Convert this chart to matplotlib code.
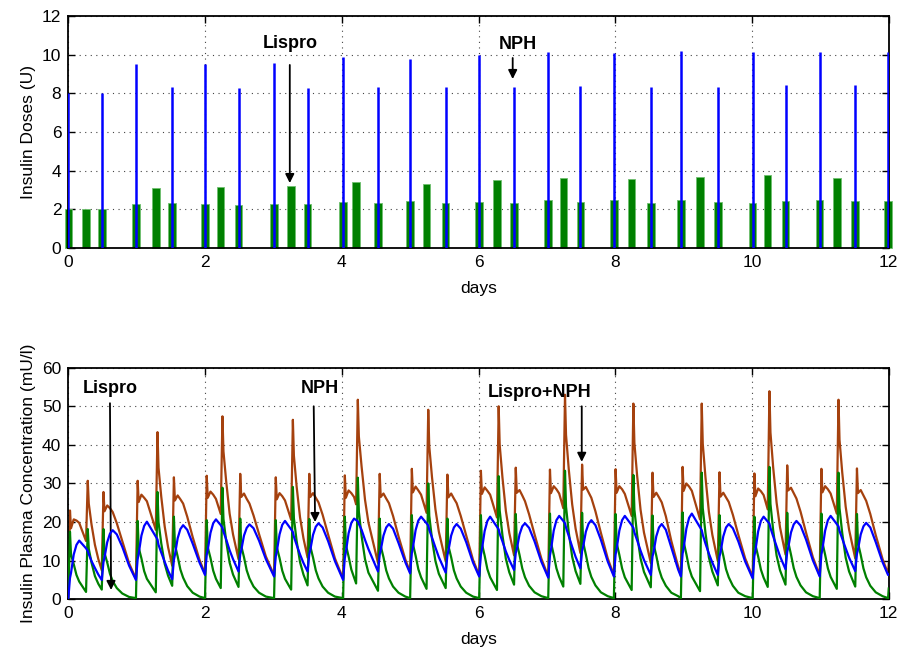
import numpy as np
import matplotlib
matplotlib.use('Agg')
import matplotlib.pyplot as plt

plt.rcParams['font.family'] = ['Liberation Sans', 'DejaVu Sans']

GREEN = '#008000'
BLUE = '#0000ff'
BROWN = '#a5410e'

# ---- doses (top panel) ----
nph_days = [0.0, 0.49, 0.99, 1.52, 2.0, 2.49, 3.01, 3.5, 4.02, 4.53, 5.0, 5.52, 6.01,
            6.52, 7.02, 7.49, 7.98, 8.52, 8.96, 9.5, 10.01, 10.49, 10.99, 11.51, 11.99]
nph_units = [8.0, 8.0, 9.52, 8.35, 9.52, 8.26, 9.55, 8.28, 9.86, 8.33, 9.78, 8.33, 9.98,
             8.35, 10.16, 8.38, 10.07, 8.31, 10.21, 8.35, 10.12, 8.41, 10.12, 8.41, 10.16]

lispro_days = [0.0, 0.26, 0.49, 0.99, 1.28, 1.52, 2.0, 2.23, 2.49, 3.01, 3.26, 3.5,
               4.02, 4.21, 4.53, 5.0, 5.24, 5.52, 6.01, 6.27, 6.52, 7.02, 7.24, 7.49,
               7.98, 8.24, 8.52, 8.96, 9.24, 9.5, 10.01, 10.23, 10.49, 10.99, 11.24,
               11.51, 11.99]
lispro_units = [2.0, 2.0, 2.0, 2.28, 3.09, 2.31, 2.26, 3.17, 2.24, 2.28, 3.21, 2.28,
                2.38, 3.43, 2.33, 2.43, 3.33, 2.33, 2.40, 3.52, 2.35, 2.47, 3.64, 2.38,
                2.47, 3.55, 2.31, 2.50, 3.67, 2.36, 2.31, 3.78, 2.42, 2.47, 3.60, 2.42,
                2.43]

# ---- plasma concentration (bottom panel), one row per day ----
conc_t = [
    [0.0, 0.025, 0.04, 0.08, 0.12, 0.16, 0.26, 0.285, 0.30, 0.34, 0.39, 0.44, 0.49, 0.515, 0.53, 0.57, 0.61, 0.65, 0.71, 0.79, 0.89],
    [0.99, 1.015, 1.03, 1.07, 1.11, 1.15, 1.28, 1.305, 1.32, 1.36, 1.41, 1.46, 1.52, 1.545, 1.56, 1.60, 1.64, 1.68, 1.74, 1.82, 1.92],
    [2.0, 2.025, 2.04, 2.08, 2.12, 2.16, 2.23, 2.255, 2.27, 2.31, 2.36, 2.41, 2.49, 2.515, 2.53, 2.57, 2.61, 2.65, 2.71, 2.79, 2.89],
    [3.01, 3.035, 3.05, 3.09, 3.13, 3.17, 3.26, 3.285, 3.30, 3.34, 3.39, 3.44, 3.50, 3.525, 3.54, 3.58, 3.62, 3.66, 3.72, 3.80, 3.90],
    [4.02, 4.045, 4.06, 4.10, 4.14, 4.18, 4.21, 4.235, 4.25, 4.29, 4.34, 4.39, 4.53, 4.555, 4.57, 4.61, 4.65, 4.69, 4.75, 4.83, 4.93],
    [5.0, 5.025, 5.04, 5.08, 5.12, 5.16, 5.24, 5.265, 5.28, 5.32, 5.37, 5.42, 5.52, 5.545, 5.56, 5.60, 5.64, 5.68, 5.74, 5.82, 5.92],
    [6.01, 6.035, 6.05, 6.09, 6.13, 6.17, 6.27, 6.295, 6.31, 6.35, 6.40, 6.45, 6.52, 6.545, 6.56, 6.60, 6.64, 6.68, 6.74, 6.82, 6.92],
    [7.02, 7.045, 7.06, 7.10, 7.14, 7.18, 7.24, 7.265, 7.28, 7.32, 7.37, 7.42, 7.49, 7.515, 7.53, 7.57, 7.61, 7.65, 7.71, 7.79, 7.89],
    [7.98, 8.005, 8.02, 8.06, 8.10, 8.14, 8.24, 8.265, 8.28, 8.32, 8.37, 8.42, 8.52, 8.545, 8.56, 8.60, 8.64, 8.68, 8.74, 8.82, 8.92],
    [8.96, 8.985, 9.0, 9.04, 9.08, 9.12, 9.24, 9.265, 9.28, 9.32, 9.37, 9.42, 9.50, 9.525, 9.54, 9.58, 9.62, 9.66, 9.72, 9.80, 9.90],
    [10.01, 10.035, 10.05, 10.09, 10.13, 10.17, 10.23, 10.255, 10.27, 10.31, 10.36, 10.41, 10.49, 10.515, 10.53, 10.57, 10.61, 10.65, 10.71, 10.79, 10.89],
    [10.99, 11.015, 11.03, 11.07, 11.11, 11.15, 11.24, 11.265, 11.28, 11.32, 11.37, 11.42, 11.51, 11.535, 11.55, 11.59, 11.63, 11.67, 11.73, 11.81, 11.91],
    [11.99, 12.0],
]
conc_lispro = [
    [0, 17.5, 11.6, 9.1, 6.3, 4.6, 1.9, 18.2, 13.1, 9.5, 6.0, 4.0, 2.5, 18.2, 12.0, 9.5, 6.6, 4.7, 2.9, 1.5, 0.6],
    [0.3, 20.3, 13.4, 10.6, 7.3, 5.3, 1.8, 27.8, 20.0, 14.5, 9.2, 6.1, 3.5, 21.4, 14.1, 11.1, 7.7, 5.6, 3.4, 1.7, 0.7],
    [0.3, 20.5, 13.5, 10.7, 7.4, 5.3, 2.9, 28.9, 20.8, 15.0, 9.5, 6.4, 3.2, 20.9, 13.8, 10.9, 7.5, 5.4, 3.3, 1.7, 0.7],
    [0.3, 20.5, 13.5, 10.7, 7.4, 5.3, 2.5, 29.1, 21.0, 15.1, 9.6, 6.4, 3.6, 20.8, 13.7, 10.8, 7.5, 5.4, 3.3, 1.7, 0.7],
    [0.3, 21.4, 14.1, 11.1, 7.7, 5.6, 4.1, 31.5, 22.7, 16.4, 10.4, 6.9, 2.2, 20.9, 13.8, 10.9, 7.5, 5.4, 3.3, 1.7, 0.7],
    [0.3, 21.8, 14.4, 11.3, 7.8, 5.7, 2.7, 30.0, 21.6, 15.6, 9.9, 6.6, 2.9, 20.9, 13.8, 10.9, 7.5, 5.4, 3.3, 1.7, 0.7],
    [0.3, 21.8, 14.4, 11.3, 7.8, 5.7, 2.4, 31.9, 23.0, 16.6, 10.5, 7.0, 3.8, 22.1, 14.6, 11.5, 8.0, 5.7, 3.5, 1.8, 0.8],
    [0.3, 22.2, 14.7, 11.5, 8.0, 5.8, 3.3, 33.3, 24.0, 17.3, 11.0, 7.3, 4.0, 22.4, 14.8, 11.6, 8.1, 5.8, 3.6, 1.8, 0.8],
    [0.3, 22.1, 14.6, 11.5, 8.0, 5.7, 2.4, 32.2, 23.2, 16.7, 10.6, 7.1, 3.1, 21.7, 14.3, 11.3, 7.8, 5.6, 3.5, 1.7, 0.8],
    [0.3, 22.5, 14.9, 11.7, 8.1, 5.9, 2.1, 32.8, 23.6, 17.1, 10.8, 7.2, 3.6, 21.8, 14.4, 11.3, 7.8, 5.7, 3.5, 1.7, 0.8],
    [0.3, 21.4, 14.1, 11.1, 7.7, 5.6, 3.2, 34.3, 24.7, 17.8, 11.3, 7.5, 3.8, 22.4, 14.8, 11.6, 8.1, 5.8, 3.6, 1.8, 0.8],
    [0.3, 22.2, 14.7, 11.5, 8.0, 5.8, 2.7, 32.8, 23.6, 17.1, 10.8, 7.2, 3.3, 22.1, 14.6, 11.5, 8.0, 5.7, 3.5, 1.8, 0.8],
    [0.3, 2.8],
]
conc_nph = [
    [0, 5.5, 6.8, 11.6, 14.1, 15.2, 13.2, 12.5, 11.7, 9.9, 8.1, 6.4, 5.0, 9.6, 10.8, 14.8, 17.0, 17.9, 16.8, 13.6, 8.7],
    [5.0, 10.4, 11.8, 16.5, 19.0, 20.1, 16.2, 15.5, 14.1, 12.1, 9.7, 7.4, 5.2, 10.2, 11.5, 15.8, 18.2, 19.2, 18.0, 14.4, 9.5],
    [6.3, 11.5, 12.8, 17.2, 19.7, 20.7, 19.2, 18.5, 17.5, 15.5, 12.7, 10.4, 7.2, 11.6, 12.7, 16.5, 18.5, 19.4, 18.4, 15.2, 10.4],
    [5.9, 11.1, 12.4, 16.8, 19.3, 20.3, 18.1, 17.4, 16.2, 14.1, 11.6, 9.4, 7.2, 11.7, 12.8, 16.7, 18.8, 19.7, 18.6, 15.1, 9.9],
    [5.0, 10.7, 12.2, 17.1, 19.8, 20.9, 20.5, 20.2, 19.5, 18.0, 15.4, 13.0, 7.2, 11.6, 12.7, 16.5, 18.6, 19.5, 18.3, 14.6, 9.6],
    [6.7, 12.0, 13.3, 17.9, 20.4, 21.4, 19.7, 19.1, 18.0, 16.0, 13.4, 10.9, 6.9, 11.4, 12.6, 16.5, 18.6, 19.5, 18.3, 14.8, 9.5],
    [5.9, 11.5, 12.9, 17.7, 20.3, 21.4, 18.8, 18.1, 17.0, 15.0, 12.4, 10.2, 7.6, 12.0, 13.0, 16.8, 18.9, 19.7, 18.5, 15.0, 9.7],
    [5.6, 11.4, 12.8, 17.8, 20.5, 21.6, 20.3, 19.7, 18.6, 16.4, 13.6, 11.0, 8.0, 12.5, 13.6, 17.5, 19.6, 20.5, 19.2, 15.4, 9.8],
    [5.9, 11.6, 13.0, 17.8, 20.5, 21.6, 19.2, 18.5, 17.3, 15.3, 12.6, 10.2, 6.3, 11.1, 12.2, 16.3, 18.6, 19.5, 18.0, 13.4, 7.7],
    [5.9, 11.8, 13.2, 18.3, 21.1, 22.2, 18.6, 17.9, 16.7, 14.4, 11.8, 9.5, 6.3, 11.1, 12.2, 16.3, 18.6, 19.5, 18.4, 15.0, 9.8],
    [5.4, 11.2, 12.6, 17.6, 20.3, 21.4, 20.1, 19.6, 18.5, 16.3, 13.7, 11.1, 7.8, 12.3, 13.4, 17.3, 19.4, 20.3, 19.1, 15.5, 10.1],
    [5.9, 11.6, 13.0, 17.8, 20.5, 21.6, 19.5, 18.9, 17.7, 15.7, 13.2, 10.8, 7.3, 11.8, 12.9, 16.8, 18.9, 19.8, 18.6, 14.8, 9.6],
    [6.3, 6.4],
]

t = np.concatenate(conc_t)
lispro = np.concatenate(conc_lispro)
nph = np.concatenate(conc_nph)
total = lispro + nph   # Lispro+NPH


def style_axes(ax, ymax, ystep):
    ax.set_xlim(0, 12)
    ax.set_ylim(0, ymax)
    ax.set_xticks(range(0, 13, 2))
    ax.set_yticks(np.arange(0, ymax + 1, ystep))
    ax.grid(True, linestyle=(0, (1, 4)), color='#444444', linewidth=0.8)
    ax.set_axisbelow(True)
    ax.tick_params(direction='in', top=True, right=True, length=5, width=1,
                   labelsize=12.5, pad=5)
    for s in ax.spines.values():
        s.set_linewidth(1.3)
    ax.set_xlabel('days', fontsize=12.5, labelpad=8)


fig = plt.figure(figsize=(8.97, 6.6), dpi=100)

# top: insulin doses
ax1 = fig.add_axes([0.0761, 0.6242, 0.9147, 0.3515])
ax1.bar(lispro_days, lispro_units, width=0.11, color=GREEN, edgecolor='#6fbf6f',
        linewidth=0.6, clip_on=False, zorder=2)
ax1.vlines(nph_days, 0, nph_units, color=BLUE, linewidth=1.8, zorder=3)
style_axes(ax1, 12, 2)
ax1.set_ylabel('Insulin Doses (U)', fontsize=12.5)

arrow = dict(arrowstyle='-|>', color='k', lw=1.3, mutation_scale=13, shrinkA=0, shrinkB=0)
ax1.text(3.24, 10.6, 'Lispro', ha='center', va='center', fontsize=13, fontweight='bold')
ax1.annotate('', xy=(3.24, 3.36), xytext=(3.24, 9.47), arrowprops=arrow)
ax1.text(6.57, 10.55, 'NPH', ha='center', va='center', fontsize=13, fontweight='bold')
ax1.annotate('', xy=(6.5, 8.74), xytext=(6.5, 9.83), arrowprops=arrow)

# bottom: plasma concentration
ax2 = fig.add_axes([0.0761, 0.0920, 0.9147, 0.3509])
ax2.plot(t, total, color=BROWN, linewidth=1.6, zorder=2)
ax2.plot(t, lispro, color=GREEN, linewidth=1.6, zorder=3)
ax2.plot(t, nph, color=BLUE, linewidth=1.6, zorder=4)
style_axes(ax2, 60, 10)
ax2.set_ylabel('Insulin Plasma Concentration (mU/l)', fontsize=12.5)

ax2.text(0.61, 54.7, 'Lispro', ha='center', va='center', fontsize=13, fontweight='bold')
ax2.annotate('', xy=(0.626, 2.4), xytext=(0.61, 50.8), arrowprops=arrow)
ax2.text(3.68, 54.7, 'NPH', ha='center', va='center', fontsize=13, fontweight='bold')
ax2.annotate('', xy=(3.61, 20.0), xytext=(3.59, 50.0), arrowprops=arrow)
ax2.text(6.9, 53.7, 'Lispro+NPH', ha='center', va='center', fontsize=13, fontweight='bold')
ax2.annotate('', xy=(7.51, 35.6), xytext=(7.51, 50.0), arrowprops=arrow)

fig.savefig('out.png', dpi=100)
